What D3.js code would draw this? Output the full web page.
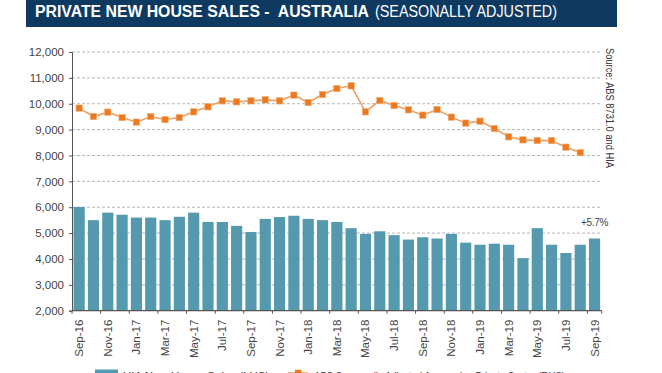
<!DOCTYPE html>
<html>
<head>
<meta charset="utf-8">
<script src="https://cdn.jsdelivr.net/npm/d3@7"></script>
<style>
  body { margin: 0; background: #fff; }
  svg { display: block; font-family: "Liberation Sans", Arial, sans-serif; }
</style>
</head>
<body>
<div id="chart"></div>
<script>
// months Sep-16 .. Sep-19
var months = ["Sep-16","Oct-16","Nov-16","Dec-16","Jan-17","Feb-17","Mar-17","Apr-17","May-17","Jun-17","Jul-17","Aug-17",
  "Sep-17","Oct-17","Nov-17","Dec-17","Jan-18","Feb-18","Mar-18","Apr-18","May-18","Jun-18","Jul-18","Aug-18",
  "Sep-18","Oct-18","Nov-18","Dec-18","Jan-19","Feb-19","Mar-19","Apr-19","May-19","Jun-19","Jul-19","Aug-19","Sep-19"];

// HIA new house sales (LHS) - bars
var hiaSales = [6010,5500,5790,5710,5600,5600,5500,5630,5790,5430,5430,5280,
  5040,5550,5620,5670,5550,5500,5430,5190,4970,5070,4920,4750,
  4840,4790,4970,4630,4550,4590,4550,4030,5190,4550,4230,4550,4790];

// ABS approvals, private sector (RHS) - line, no Sep-19 point
var absApprovals = [9830,9505,9675,9466,9288,9505,9389,9466,9687,9880,10112,10074,
  10112,10151,10112,10333,10047,10356,10588,10692,9687,10125,9930,9764,
  9559,9776,9482,9250,9327,9041,8720,8603,8576,8576,8321,8112];

var yTicks = [2000,3000,4000,5000,6000,7000,8000,9000,10000,11000,12000];

drawChart();

function drawChart(){
var width = 662, height = 373;
var plotL = 72, plotR = 601.7, plotT = 52, plotB = 310.7;

var svg = d3.select("#chart").append("svg")
  .attr("width", width).attr("height", height)
  .attr("viewBox", "0,0," + width + "," + height);

//TITLE BAR
svg.append("rect").attr("x", 26).attr("y", 0).attr("width", 591).attr("height", 27).attr("fill", "#0e3a62");
svg.append("text").attr("x", 35).attr("y", 17).attr("fill", "#fff").attr("font-size", "16px").attr("font-weight", "bold")
  .style("white-space", "pre")
  .attr("textLength", 334).attr("lengthAdjust", "spacingAndGlyphs")
  .text("PRIVATE NEW HOUSE SALES -  AUSTRALIA");
svg.append("text").attr("x", 375).attr("y", 17).attr("fill", "#fff").attr("font-size", "16px")
  .attr("textLength", 182).attr("lengthAdjust", "spacingAndGlyphs")
  .text("(SEASONALLY ADJUSTED)");

var x = d3.scaleBand().domain(months).range([plotL, plotR]).padding(0);
var y = d3.scaleLinear().domain([2000, 12000]).range([plotB, plotT]);
var barW = x.bandwidth() * 0.78;

//gridlines
svg.selectAll("line.grid").data(yTicks.slice(1)).enter().append("line")
  .attr("class", "grid")
  .attr("x1", plotL).attr("x2", plotR)
  .attr("y1", d => y(d)).attr("y2", d => y(d))
  .attr("stroke", "#b5b5b5").attr("stroke-width", 1).attr("stroke-dasharray", "3,2");

//bars
svg.selectAll("rect.bar").data(hiaSales).enter().append("rect")
  .attr("class", "bar")
  .attr("x", (d, i) => x(months[i]) + (x.bandwidth() - barW) / 2)
  .attr("width", barW)
  .attr("y", d => y(d))
  .attr("height", d => y(2000) - y(d))
  .attr("fill", "#5499ad");

//y axis
var yAxis = svg.append("g").attr("transform", "translate(" + plotL + ",0)")
  .call(d3.axisLeft(y).tickValues(yTicks).tickSize(3).tickFormat(d3.format(",")));
yAxis.select(".domain").attr("stroke", "#555");
yAxis.selectAll(".tick line").attr("stroke", "#555");
yAxis.selectAll(".tick text").attr("x", -8).attr("fill", "#444").attr("font-size", "11.5px")
  .attr("font-family", "Liberation Sans, Arial, sans-serif");

//x axis: ticks every 2 months on band boundaries
var bounds = d3.range(0, 37, 2).map(i => x(months[i])).concat([plotR]);
svg.append("line").attr("x1", plotL).attr("x2", plotR).attr("y1", plotB).attr("y2", plotB)
  .attr("stroke", "#555").attr("stroke-width", 1.2);
svg.selectAll("line.xtick").data(bounds).enter().append("line")
  .attr("class", "xtick")
  .attr("x1", d => d).attr("x2", d => d).attr("y1", plotB).attr("y2", plotB + 3)
  .attr("stroke", "#555");
svg.selectAll("text.xlab").data(months.filter((m, i) => i % 2 == 0)).enter().append("text")
  .attr("class", "xlab")
  .attr("transform", d => "translate(" + (x(d) + x.bandwidth() / 2 + 4) + "," + (plotB + 9) + ") rotate(-90)")
  .attr("text-anchor", "end")
  .attr("font-size", "11.5px")
  .attr("fill", "#444")
  .text(d => d);

//line
var line = d3.line()
  .x((d, i) => x(months[i]) + x.bandwidth() / 2)
  .y(d => y(d));
svg.append("path").attr("d", line(absApprovals))
  .attr("fill", "none").attr("stroke", "#eea062").attr("stroke-width", 1.6);
svg.selectAll("rect.mark").data(absApprovals).enter().append("rect")
  .attr("class", "mark")
  .attr("x", (d, i) => x(months[i]) + x.bandwidth() / 2 - 3.2)
  .attr("y", d => y(d) - 3.2)
  .attr("width", 6.4).attr("height", 6.4)
  .attr("fill", "#ea7a22").attr("stroke", "#f3b27a").attr("stroke-width", 0.6);

//annotation
svg.append("text").attr("x", 581).attr("y", 226).attr("font-size", "10px").attr("fill", "#444")
  .attr("letter-spacing", "-0.3").text("+5.7%");

//source
svg.append("text").attr("transform", "translate(606,48) rotate(90)")
  .attr("font-size", "11px").attr("fill", "#333")
  .attr("textLength", 120).attr("lengthAdjust", "spacingAndGlyphs")
  .text("Source: ABS 8731.0 and HIA");

//legend
svg.append("rect").attr("x", 95).attr("y", 369.5).attr("width", 23).attr("height", 4).attr("fill", "#5499ad");
svg.append("text").attr("x", 123).attr("y", 380).attr("font-size", "11.5px").attr("fill", "#333")
  .text("HIA New House Sales (LHS)");
svg.append("line").attr("x1", 288).attr("x2", 308).attr("y1", 373).attr("y2", 373)
  .attr("stroke", "#eea062").attr("stroke-width", 1.6);
svg.append("rect").attr("x", 295).attr("y", 369.8).attr("width", 6.4).attr("height", 6.4).attr("fill", "#ea7a22");
svg.append("text").attr("x", 314).attr("y", 380).attr("font-size", "11.5px").attr("fill", "#333")
  .attr("textLength", 251).attr("lengthAdjust", "spacingAndGlyphs")
  .text("ABS Seasonally Adjusted Approvals - Private Sector (RHS)");
}
</script>
</body>
</html>
